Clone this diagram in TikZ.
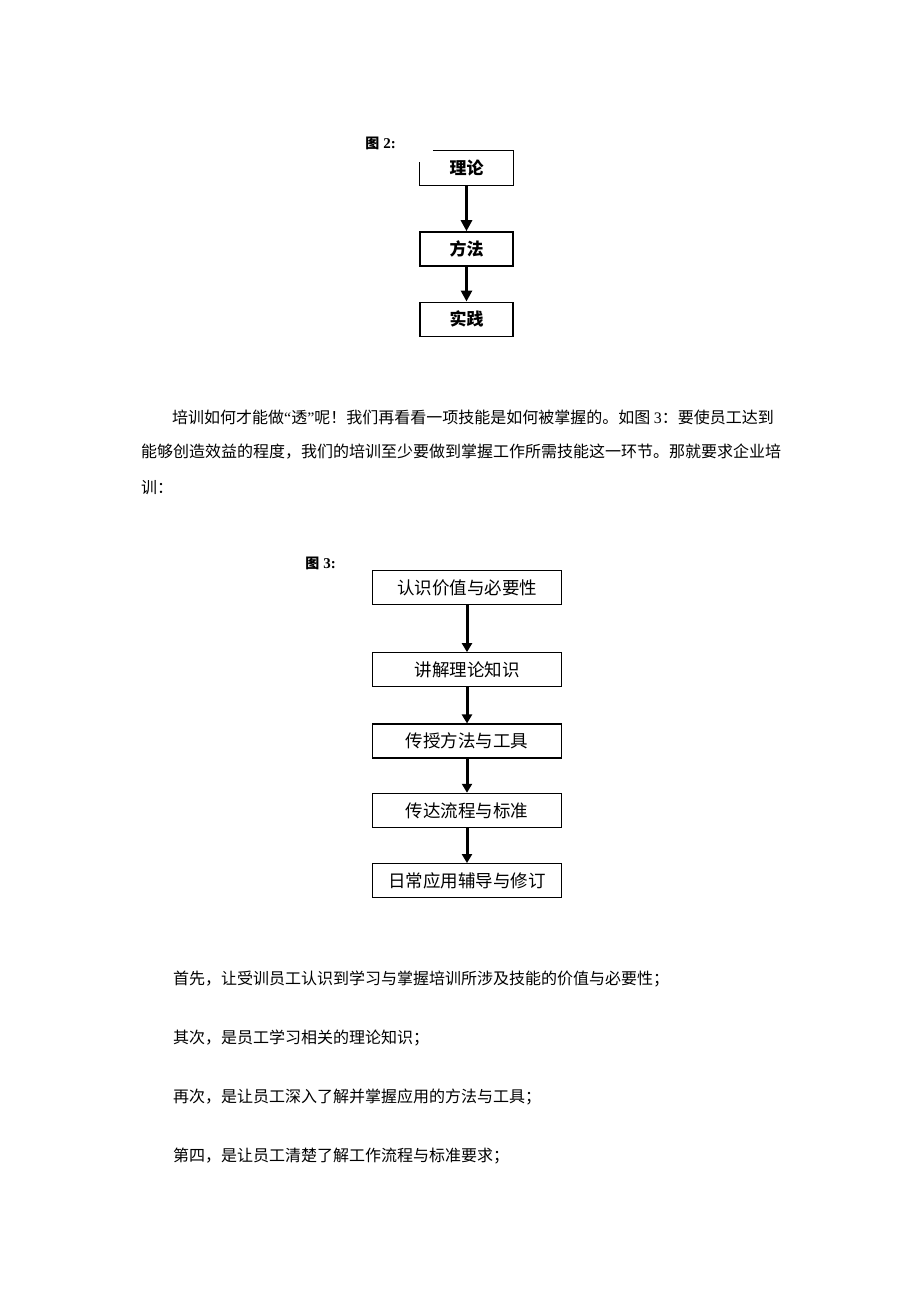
\documentclass[tikz,border=0pt]{standalone}
\usepackage{fontspec}
\usetikzlibrary{arrows.meta,positioning}
\newfontfamily\cjk{Noto Sans CJK SC}
\newfontfamily\lat{Liberation Serif}

\begin{document}
\begin{tikzpicture}[x=1pt,y=-1pt,
        box/.style={minimum width=93pt,minimum height=34pt,inner sep=0pt,font=\cjk\bfseries\fontsize{17}{17}\selectfont},
        stage/.style={draw,line width=1.3pt,minimum width=189pt,minimum height=34pt,inner sep=0pt,font=\cjk\fontsize{17.5}{17.5}\selectfont},
        arr/.style={line width=3pt,-{Triangle[width=10pt,length=9pt]}},
        bigarr/.style={line width=3.2pt,-{Triangle[width=11pt,length=11pt]}},
        body/.style={anchor=base west,inner sep=0pt,font=\cjk\fontsize{16}{16}\selectfont},
        figlabel/.style={inner sep=0pt,font=\cjk\bfseries\fontsize{14}{14}\selectfont}]
        \useasboundingbox (0,0) rectangle (920,1302);

        \node[figlabel] (f2) at (380.5,143) {图\hspace{4pt}{\lat\bfseries\fontsize{15}{15}\selectfont 2:}};
        \node[box] (t1) at (466.5,168) {理论};
        \node[box,draw,line width=1.3pt, below = 46pt of t1] (t2) {方法};
        \node[box,draw,line width=1.3pt, below = 35pt of t2] (t3) {实践};
        \draw[line width=1.3pt] ([xshift=13pt]t1.north west) -- (t1.north east) -- (t1.south east)
                -- (t1.south west) -- ([yshift=-11pt]t1.north west);

        \draw[bigarr] (t1) -- (t2);
        \draw[bigarr] (t2) -- (t3);

        \node[body] (p1) at (172,423) {培训如何才能做{\lat “}透{\lat ”}呢！我们再看看一项技能是如何被掌握的。如图 {\lat 3}：要使员工达到};
        \node[body] (p2) at (141,457) {能够创造效益的程度，我们的培训至少要做到掌握工作所需技能这一环节。那就要求企业培};
        \node[body] (p3) at (141,493) {训：};

        \node[figlabel] (f3) at (320.5,563) {图\hspace{4pt}{\lat\bfseries\fontsize{15}{15}\selectfont 3:}};
        \node[stage] (s1) at (467,587.5) {认识价值与必要性};
        \node[stage, below = 47pt of s1] (s2) {讲解理论知识};
        \node[stage, below = 36pt of s2] (s3) {传授方法与工具};
        \node[stage, below = 34pt of s3] (s4) {传达流程与标准};
        \node[stage, below = 35pt of s4] (s5) {日常应用辅导与修订};

        \draw[arr] (s1) -- (s2);
        \draw[arr] (s2) -- (s3);
        \draw[arr] (s3) -- (s4);
        \draw[arr] (s4) -- (s5);

        \node[body] (q1) at (173,984) {首先，让受训员工认识到学习与掌握培训所涉及技能的价值与必要性；};
        \node[body] (q2) at (173,1043) {其次，是员工学习相关的理论知识；};
        \node[body] (q3) at (173,1102) {再次，是让员工深入了解并掌握应用的方法与工具；};
        \node[body] (q4) at (173,1161) {第四，是让员工清楚了解工作流程与标准要求；};

        \end{tikzpicture}
\end{document}
